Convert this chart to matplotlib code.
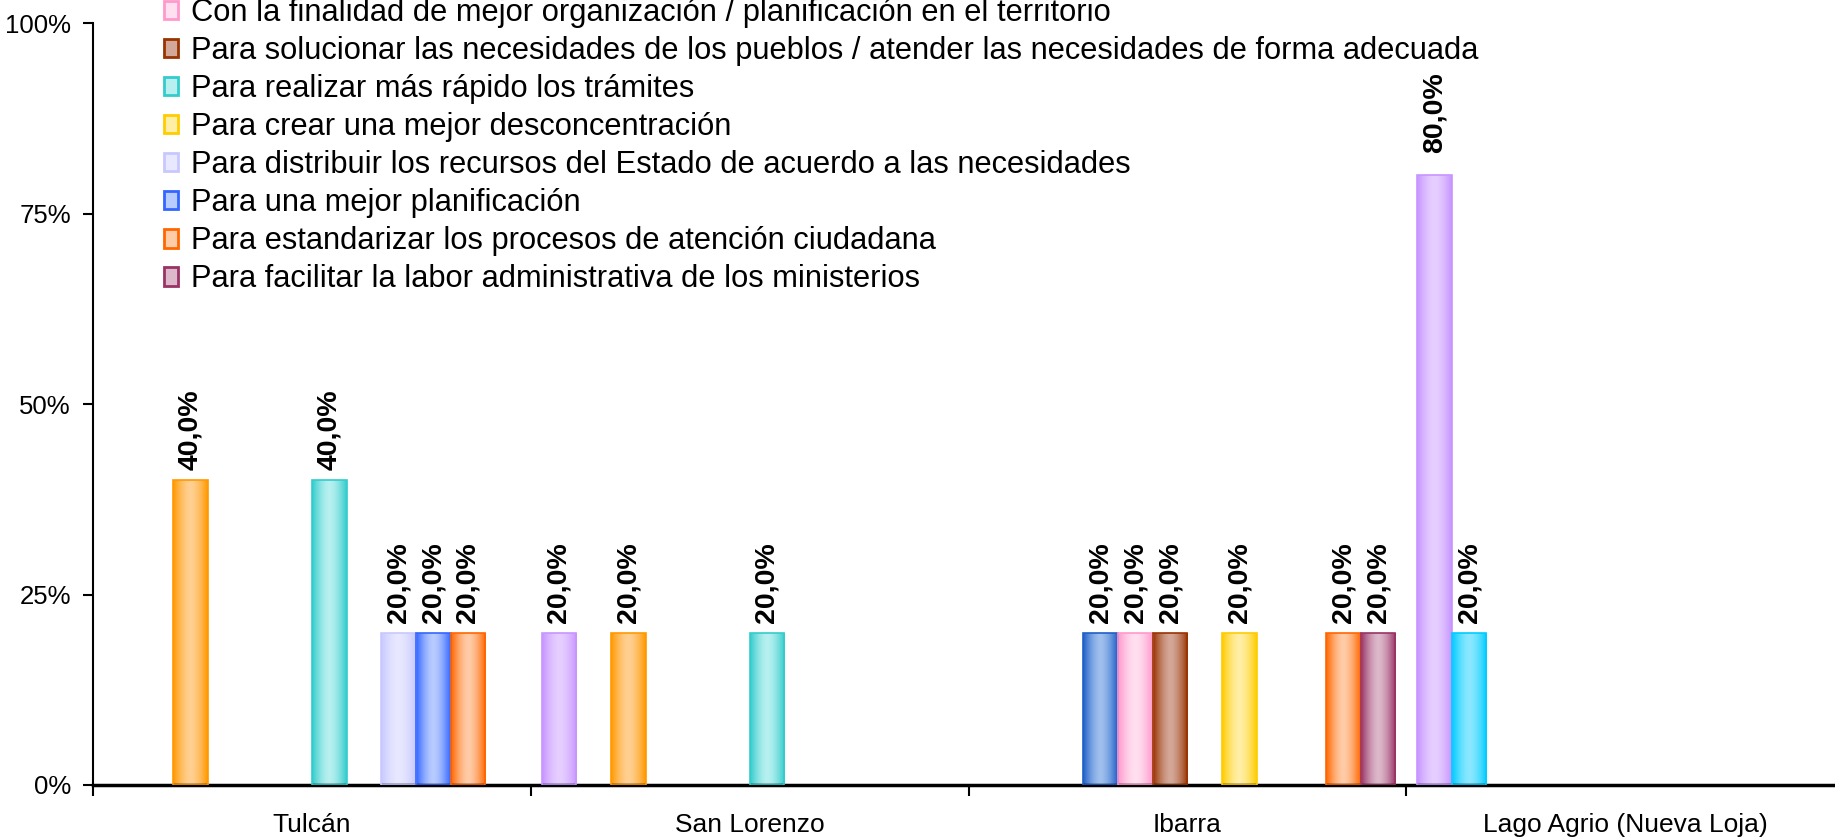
import numpy as np
import matplotlib
matplotlib.use("Agg")
import matplotlib.pyplot as plt
from matplotlib.colors import LinearSegmentedColormap
from matplotlib.patches import Patch
from matplotlib.ticker import FixedLocator, FuncFormatter

plt.rcParams['font.family'] = ['Liberation Sans', 'DejaVu Sans']

categories = ['Tulcán', 'San Lorenzo', 'Ibarra', 'Lago Agrio (Nueva Loja)']

# porcentaje por ciudad, un valor por cada una de las 12 series (0 = sin respuesta)
tulcan = [0, 0, 40, 0, 0, 0, 40, 0, 20, 20, 20, 0]
san_lorenzo = [20, 0, 20, 0, 0, 0, 20, 0, 0, 0, 0, 0]
ibarra = [0, 0, 0, 20, 20, 20, 0, 20, 0, 0, 20, 20]
lago_agrio = [80, 20, 0, 0, 0, 0, 0, 0, 0, 0, 0, 0]

# solo las etiquetas de leyenda visibles (series 5 a 12)
legend_labels = [
    'Con la finalidad de mejor organización / planificación en el territorio',
    'Para solucionar las necesidades de los pueblos / atender las necesidades de forma adecuada',
    'Para realizar más rápido los trámites',
    'Para crear una mejor desconcentración',
    'Para distribuir los recursos del Estado de acuerdo a las necesidades',
    'Para una mejor planificación',
    'Para estandarizar los procesos de atención ciudadana',
    'Para facilitar la labor administrativa de los ministerios',
]

# (borde oscuro, centro claro) estilo Excel
dark_colors = ['#C795FF', '#00CCFF', '#FF9900', '#1F5FC8', '#FF99CC', '#993300',
               '#33CCCC', '#FFCC00', '#C8C8FF', '#3366FF', '#FF6600', '#993366']
light_colors = ['#E6CFFF', '#8AE8FF', '#FFD092', '#A0C0EE', '#FFE0F0', '#D4A898',
                '#B8F0F0', '#FFEFA6', '#E8E8FF', '#B8CCFF', '#FFCCA8', '#DDB8CA']

data = np.array([tulcan, san_lorenzo, ibarra, lago_agrio], dtype=float)
n_series = data.shape[1]
gap = 0.63
bw = 1.0 / (n_series + gap)
offset = gap * bw / 2

fig = plt.figure(figsize=(18.35, 8.39), dpi=100)
ax = fig.add_axes([93 / 1835, 54 / 839, 1751 / 1835, 762 / 839])

grad = np.linspace(0, 1, 64)
grad = np.abs(grad - 0.5) * 2
for s in range(n_series):
    vals = data[:, s]
    idx = np.where(vals > 0)[0]
    if len(idx) == 0:
        continue
    xs = idx + offset + s * bw
    bars = ax.bar(xs, vals[idx], width=bw, align='edge', facecolor='none',
                  edgecolor=dark_colors[s], linewidth=1.2, zorder=3)
    cmap = LinearSegmentedColormap.from_list('g%d' % s, [light_colors[s], dark_colors[s]])
    for rect, v in zip(bars, vals[idx]):
        x0 = rect.get_x()
        im = ax.imshow(grad[np.newaxis, :] ** 1.6, extent=(x0, x0 + rect.get_width(), 0, rect.get_height()),
                       cmap=cmap, aspect='auto', interpolation='bicubic', zorder=2)
        im.set_clip_path(rect)
        pad = 16 if v > 50 else 7
        ax.annotate(('%.1f%%' % v).replace('.', ','), xy=(x0 + rect.get_width() / 2, rect.get_height()),
                    xytext=(0, pad), textcoords='offset points', rotation=90,
                    ha='center', va='bottom', fontsize=20.5, fontweight='bold', color='black')

ax.set_xlim(0, len(categories))
ax.set_ylim(0, 100)

ax.spines['top'].set_visible(False)
ax.spines['right'].set_visible(False)
ax.spines['left'].set_linewidth(1.5)
ax.spines['bottom'].set_linewidth(2.5)

ax.yaxis.set_major_locator(FixedLocator([0, 25, 50, 75, 100]))
ax.yaxis.set_major_formatter(FuncFormatter(lambda v, p: '%d%%' % v))
ax.tick_params(axis='y', direction='out', length=7, width=1.5, pad=9, labelsize=18.5)

ax.set_xticks(np.arange(len(categories) + 1))
ax.set_xticklabels([])
ax.set_xticks(np.arange(len(categories)) + 0.5, minor=True)
ax.set_xticklabels(categories, minor=True)
ax.tick_params(axis='x', which='major', direction='out', length=8, width=1.5)
ax.tick_params(axis='x', which='minor', length=0, pad=20, labelsize=19)

handles = [Patch(facecolor=light_colors[s], edgecolor=dark_colors[s], linewidth=2)
           for s in range(4, n_series)]
fig.legend(handles, legend_labels, loc='upper left', bbox_to_anchor=(164 / 1835, 1.0021),
           bbox_transform=fig.transFigure, frameon=False, borderpad=0, borderaxespad=0,
           fontsize=22.2, handlelength=0.46, handleheight=0.53, handletextpad=0.43,
           labelspacing=0.26)

fig.savefig('out.png', dpi=100)
